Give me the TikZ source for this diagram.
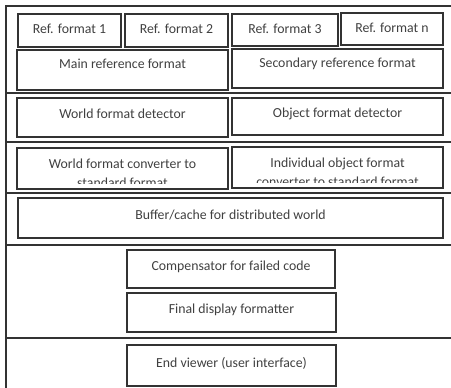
\documentclass[tikz,border=0pt]{standalone}
\usepackage{fontspec}
\setmainfont{Carlito}
\definecolor{linec}{HTML}{333333}
\definecolor{textc}{HTML}{404040}
\begin{document}
\begin{tikzpicture}[x=1pt,y=-1pt,
  box/.style={draw=linec, line width=1.4pt, inner sep=0pt, text=textc,
    font=\fontsize{13.8}{16}\selectfont, text depth=7pt},
  twoline/.style={text=textc, font=\fontsize{13.8}{19}\selectfont, align=center, anchor=north, inner sep=0pt},
  rule/.style={draw=linec, line width=1.2pt}]
\useasboundingbox (0,0) rectangle (451,388);
% outer frame
\coordinate (tl) at (6,6);
\coordinate (tr) at (451,6);
\coordinate (bl) at (6,388);
\draw[rule] (tr) -- (tl) -- (bl);
\foreach \yy/\nm in {93/s1,142/s2,193/s3,245/s4,338/s5}{
  \coordinate (\nm a) at (6,\yy);
  \coordinate (\nm b) at (451,\yy);
  \draw[rule] (\nm a) -- (\nm b);
}
% row 1
\node[box, minimum width=103pt, minimum height=33pt, text depth=3pt] (r1) at (69.5,30.5) {Ref. format 1};
\node[box, minimum width=103pt, minimum height=33pt, text depth=3pt] (r2) at (176.5,30.5) {Ref. format 2};
\node[box, minimum width=106pt, minimum height=32pt, text depth=3pt] (r3) at (285,30) {Ref. format 3};
\node[box, minimum width=102pt, minimum height=32pt, text depth=3pt] (r4) at (392,29) {Ref. format n};
% row 2
\node[box, minimum width=211pt, minimum height=40pt, text depth=12pt] (main) at (122.5,70) {Main reference format};
\node[box, minimum width=211pt, minimum height=39pt, text depth=12pt] (sec) at (337.5,68.5) {Secondary reference format};
% row 3
\node[box, minimum width=211pt, minimum height=39pt] (wfd) at (122.5,117.5) {World format detector};
\node[box, minimum width=211pt, minimum height=37pt] (ofd) at (337.5,116.5) {Object format detector};
% row 4
\node[box, minimum width=211pt, minimum height=41pt] (wfc) at (122.5,168.5) {};
\node[box, minimum width=211pt, minimum height=41pt] (iofc) at (337.5,167.5) {};
\begin{scope}
  \clip (18,149) rectangle (227,183.5);
  \node[twoline] (wfct) at (122.5,159) {World format converter to\\standard format};
\end{scope}
\begin{scope}
  \clip (233,148) rectangle (442,182.5);
  \node[twoline] (iofct) at (337.5,158) {Individual object format\\converter to standard format};
\end{scope}
% row 5
\node[box, minimum width=425pt, minimum height=40pt] (buf) at (230.5,218) {Buffer/cache for distributed world};
% row 6
\node[box, minimum width=208pt, minimum height=38pt] (comp) at (231,269) {Compensator for failed code};
\node[box, minimum width=209pt, minimum height=39pt] (fin) at (231.5,312.5) {Final display formatter};
% row 7
\node[box, minimum width=209pt, minimum height=41pt] (endv) at (231.5,365.5) {End viewer (user interface)};
\end{tikzpicture}
\end{document}
